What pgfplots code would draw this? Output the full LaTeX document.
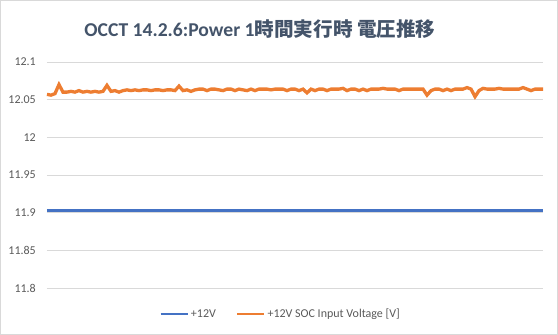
\documentclass[border=0pt]{standalone}
\usepackage{pgfplots}
\pgfplotsset{compat=1.18}
\usepackage{pgfplotstable}
\usepackage{fontspec}
\setmainfont{Carlito}
\newfontfamily\cjk{Noto Sans CJK JP}
\definecolor{eblue}{HTML}{4472C4}
\definecolor{eorange}{HTML}{ED7D31}
\definecolor{egrid}{HTML}{D9D9D9}
\definecolor{etick}{HTML}{595959}
\definecolor{etitle}{HTML}{44546A}
\pgfplotstableread{
x y
0 12.057
1 12.056
2 12.058
3 12.070
4 12.060
5 12.060
6 12.061
7 12.060
8 12.062
9 12.060
10 12.061
11 12.060
12 12.061
13 12.060
14 12.061
15 12.069
16 12.061
17 12.062
18 12.060
19 12.062
20 12.063
21 12.062
22 12.063
23 12.062
24 12.063
25 12.063
26 12.062
27 12.063
28 12.063
29 12.062
30 12.063
31 12.063
32 12.062
33 12.068
34 12.062
35 12.063
36 12.061
37 12.063
38 12.064
39 12.064
40 12.062
41 12.064
42 12.064
43 12.063
44 12.062
45 12.064
46 12.064
47 12.062
48 12.064
49 12.063
50 12.062
51 12.064
52 12.062
53 12.064
54 12.064
55 12.064
56 12.063
57 12.064
58 12.064
59 12.064
60 12.062
61 12.064
62 12.064
63 12.062
64 12.064
65 12.059
66 12.064
67 12.062
68 12.064
69 12.064
70 12.062
71 12.064
72 12.064
73 12.064
74 12.065
75 12.062
76 12.064
77 12.064
78 12.062
79 12.064
80 12.062
81 12.064
82 12.064
83 12.064
84 12.065
85 12.064
86 12.064
87 12.064
88 12.062
89 12.064
90 12.064
91 12.064
92 12.064
93 12.064
94 12.064
95 12.056
96 12.062
97 12.064
98 12.064
99 12.062
100 12.064
101 12.062
102 12.064
103 12.064
104 12.064
105 12.066
106 12.064
107 12.054
108 12.062
109 12.065
110 12.064
111 12.064
112 12.064
113 12.065
114 12.064
115 12.064
116 12.064
117 12.064
118 12.064
119 12.066
120 12.064
121 12.062
122 12.064
123 12.064
124 12.064
}\orange
\pgfplotstableread{
x y
0 11.903
124 11.903
}\blue
\begin{document}
\begin{tikzpicture}
\draw[egrid, line width=0.75bp] (0.4bp,0.4bp) rectangle (557.6bp,334.6bp);
\node[font=\fontsize{19.6bp}{23bp}\selectfont\bfseries, text=etitle] at (260bp,306bp) {OCCT 14.2.6:Power 1{\cjk\bfseries 時間実行時 電圧推移}};
\begin{axis}[
  at={(47bp,47bp)}, anchor=south west,
  scale only axis, width=496bp, height=226bp,
  xmin=0, xmax=124, ymin=11.8, ymax=12.1,
  axis line style={draw=none},
  xtick=\empty,
  ytick={11.8,11.85,11.9,11.95,12,12.05,12.1},
  yticklabels={11.8,11.85,11.9,11.95,12,12.05,12.1},
  ymajorgrids, grid style={egrid, line width=0.75bp},
  major tick length=0pt,
  yticklabel style={font=\fontsize{12bp}{14bp}\selectfont, text=etick, inner sep=0pt, xshift=-11bp},
  clip=false,
  legend style={at={(0.471,-0.115)}, anchor=center, draw=none, fill=none,
    font=\fontsize{12bp}{14bp}\selectfont, text=etick, legend columns=2,
    /tikz/every even column/.append style={column sep=18bp}},
  legend cell align=left,
  legend image code/.code={\draw[#1, line width=2.6bp] (0bp,0bp) -- (27bp,0bp);},
]
\addplot[eblue, line width=2.6bp] table[x=x,y=y] {\blue};
\addlegendentry{+12V}
\addplot[eorange, line width=3.3bp, line join=miter] table[x=x,y=y] {\orange};
\addlegendentry{+12V SOC Input Voltage [V]}
\end{axis}
\end{tikzpicture}
\end{document}
